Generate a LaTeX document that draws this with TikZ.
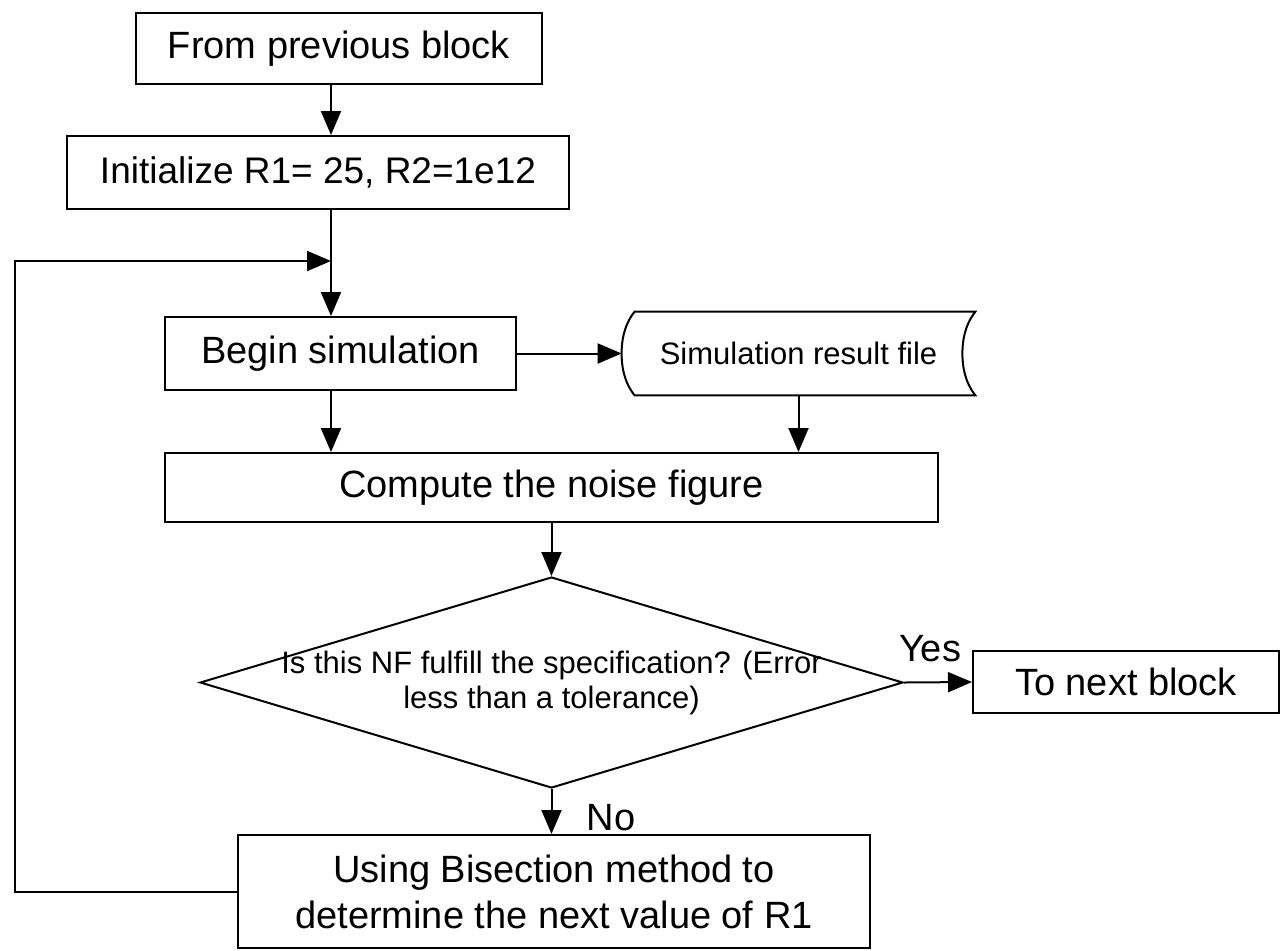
\documentclass[tikz,border=0pt]{standalone}
\usepackage{fontspec}
\setmainfont{Liberation Sans}
\usetikzlibrary{arrows.meta,shapes.geometric,calc}
\begin{document}
\begin{tikzpicture}[x=0.5pt,y=-0.5pt,
  box/.style={draw, line width=1pt, inner sep=0pt, align=center,
    font=\fontsize{19}{23}\selectfont},
  filebox/.style={inner sep=0pt, font=\fontsize{15.5}{18}\selectfont},
  lbl/.style={inner sep=0pt, font=\fontsize{19}{23}\selectfont},
  arr/.style={line width=1pt, -{Triangle[length=12pt,width=10pt]}},
  wire/.style={line width=1pt}]
\useasboundingbox (0,0) rectangle (1281,950);

% process boxes
\node[box, minimum width=203pt, minimum height=35.5pt] (prev) at (339,48.5) {From previous block};
\node[box, minimum width=251pt, minimum height=36.5pt, font=\fontsize{18.5}{22}\selectfont] (init) at (318,172.5) {Initialize R1= 25, R2=1e12};
\node[box, minimum width=175.5pt, minimum height=36.5pt] (begin) at (340.5,353.5) {Begin simulation};
\node[filebox, minimum width=176.5pt, minimum height=41.5pt] (file) at (798.5,353.5) {Simulation result file};
\node[box, minimum width=386.5pt, minimum height=34.5pt] (comp) at (551.5,487.5) {Compute the noise figure};
\node[diamond, draw, line width=1pt, inner sep=0pt, minimum width=351.5pt, minimum height=105.5pt] (dec) at (551.5,682.5) {};
\node[align=center, inner sep=0pt, font=\fontsize{15.5}{17.5}\selectfont] (dectext) at (551.5,683) {Is this NF fulfill the specification? (Error\\less than a tolerance)};
\node[box, minimum width=153pt, minimum height=31pt] (next) at (1126,682) {To next block};
\node[box, minimum width=316pt, minimum height=56.5pt] (bis) at (554,891.5) {Using Bisection method to\\determine the next value of R1};

% stored-data outline of the result file
\draw[wire] ($(file.north west)+(13,0)$) -- (file.north east)
  .. controls ($(file.north east)+(-11,14)$) and ($(file.east)+(-13,-12)$) .. ($(file.east)+(-13,0)$)
  .. controls ($(file.east)+(-13,12)$) and ($(file.south east)+(-11,-14)$) .. (file.south east)
  -- ($(file.south west)+(13,0)$)
  .. controls ($(file.south west)+(2,-14)$) and ($(file.west)+(0,12)$) .. (file.west)
  .. controls ($(file.west)+(0,-12)$) and ($(file.north west)+(2,14)$) .. cycle;

% branch labels
\node[lbl] (yes) at (930,649) {Yes};
\node[lbl] (no) at (611,818) {No};

% helper coordinates for the main column and the loop
\coordinate (colx) at (331,0);
\coordinate (loopx) at (15,0);
\coordinate (merge) at (331,261);

% connectors
\draw[arr] (prev.south -| colx) -- (init.north -| colx);
\draw[arr] (init.south -| colx) -- (begin.north -| colx);
\draw[arr] (bis.west) -- (bis.west -| loopx) -- (loopx |- merge) -- (merge);
\draw[arr] (begin.east) -- (file.west);
\draw[arr] (file.south) -- (file.south |- comp.north);
\draw[arr] (begin.south -| colx) -- (comp.north -| colx);
\draw[arr] (comp.south) -- (dec.north);
\draw[arr] (dec.east) -- (next.west);
\draw[arr] (dec.south) -- (dec.south |- bis.north);
\end{tikzpicture}
\end{document}
